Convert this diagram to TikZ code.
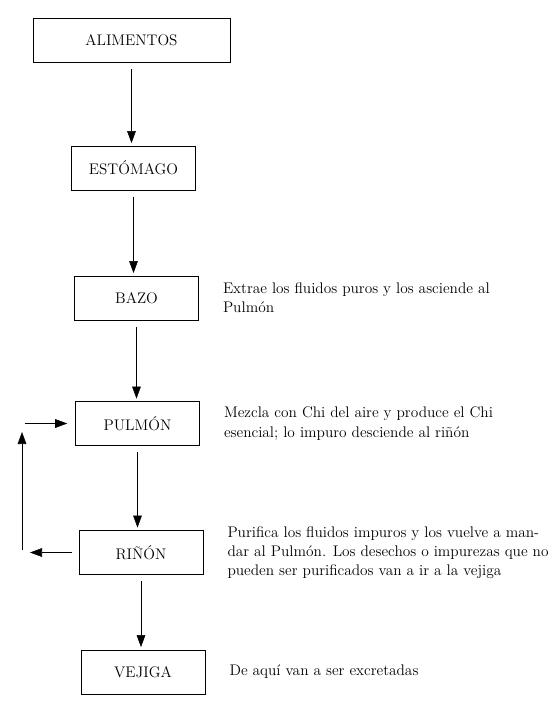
\documentclass[tikz,border=0pt]{standalone}
\usepackage{tikz}
\usetikzlibrary{
  arrows.meta,
  positioning,  % Function "of" (e.g. [right=of x])
}
\def\myhdist{18pt}
\tikzset{
  font=\fontsize{11.5}{14.5}\selectfont,
  line width=1.4pt,
  >={Triangle[length=9pt,width=6.5pt]},
  my box/.style={
    draw,
    minimum width=93pt,
    minimum height=33pt,
    inner sep=1mm,
    rectangle
  },
  my box wide/.style={
    my box,
    minimum width=148pt
  },
  my note/.style={
    align=left,
    inner sep=0pt
  },
  flow/.style={
    shorten <=5pt,
    shorten >=2pt
  }
}
\begin{document}
\begin{tikzpicture}[x=0.75pt,y=-0.75pt]
\useasboundingbox (0,0) rectangle (553,701);
\node[my box wide] (alimentos) at (131.5,40)  {ALIMENTOS};
\node[my box]      (estomago)  at (133.5,168) {ESTÓMAGO};
\node[my box]      (bazo)      at (136.5,298) {BAZO};
\node[my box]      (pulmon)    at (137.5,423.5) {PULMÓN};
\node[my box]      (rinon)     at (141,552.5) {RIÑÓN};
\node[my box]      (vejiga)    at (143,672)   {VEJIGA};
\node[my note] (t bazo)   [right=\myhdist of bazo]
  {Extrae los fluidos puros y los asciende al\\Pulmón};
\node[my note] (t pulmon) [right=\myhdist of pulmon]
  {Mezcla con Chi del aire y produce el Chi\\esencial; lo impuro desciende al riñón};
\node[my note] (t rinon)  [right=\myhdist of rinon]
  {Purifica los fluidos impuros y los vuelve a man-\\dar al Pulmón. Los desechos o impurezas que no\\pueden ser purificados van a ir a la vejiga};
\node[my note] (t vejiga) [right=\myhdist of vejiga] {De aquí van a ser excretadas};
% vuelta del riñón al pulmón
\coordinate (fb out)  at (30,552.5);
\coordinate (fb low)  at (22,550);
\coordinate (fb high) at (22,432);
\coordinate (fb in)   at (25,423.5);
\path[->] (alimentos.south) edge[flow] (alimentos.south |- estomago.north)
          (estomago.south)  edge[flow] (estomago.south |- bazo.north)
          (bazo.south)      edge[flow] (bazo.south |- pulmon.north)
          (pulmon.south)    edge[flow] (pulmon.south |- rinon.north)
          (rinon.south)     edge[flow] (rinon.south |- vejiga.north)
          (rinon)           edge[shorten <=5pt] (fb out)
          (fb low)          edge (fb high)
          (fb in)           edge[shorten >=6pt] (pulmon);
\end{tikzpicture}
\end{document}
